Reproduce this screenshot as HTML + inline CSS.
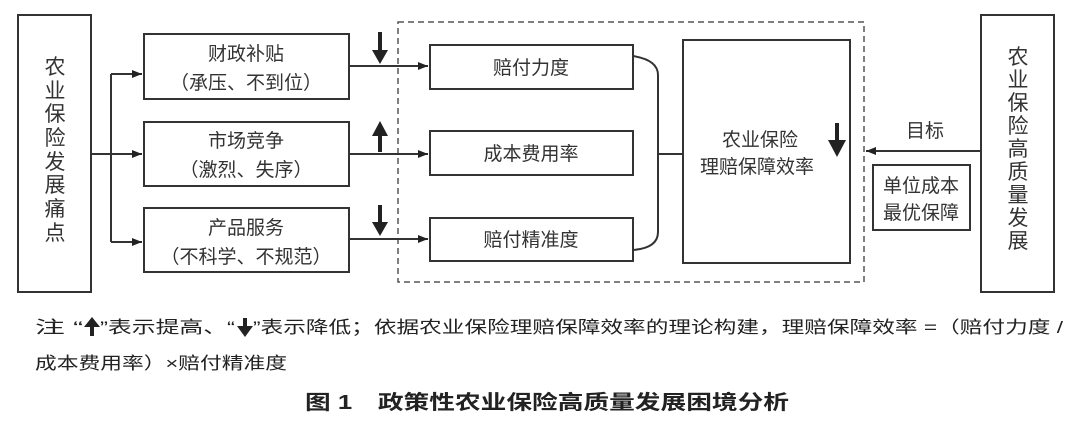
<!DOCTYPE html>
<html><head><meta charset="utf-8"><style>
html,body{margin:0;padding:0;background:#fff;}
svg{display:block;font-family:"Liberation Sans","Noto Sans CJK SC",sans-serif;}
</style></head><body>
<svg width="1080" height="423" viewBox="0 0 1080 423" xmlns="http://www.w3.org/2000/svg">
<defs><marker id="ah" markerWidth="10" markerHeight="8" refX="10" refY="4" orient="auto" markerUnits="userSpaceOnUse"><path d="M0,0 L10,4 L0,8 Z" fill="#222"/></marker></defs>
<g stroke="#333" stroke-width="2" fill="none">
<rect x="18" y="15" width="73" height="277"/>
<rect x="981" y="15" width="73" height="277"/>
<rect x="144" y="34" width="205" height="65"/>
<rect x="144" y="122" width="205" height="64"/>
<rect x="144" y="208" width="205" height="64"/>
<rect x="430" y="45" width="203" height="44"/>
<rect x="430" y="131" width="203" height="44"/>
<rect x="430" y="218" width="203" height="43"/>
<rect x="683" y="40" width="167" height="223"/>
<rect x="873" y="165" width="97" height="65"/>
<rect x="398" y="22" width="466" height="260" stroke-dasharray="6,4" stroke-width="1.5" stroke="#555"/>
<path d="M91,154 H111 M111,74 V242"/>
<path d="M111,74 H142" marker-end="url(#ah)"/>
<path d="M111,154 H142" marker-end="url(#ah)"/>
<path d="M111,242 H142" marker-end="url(#ah)"/>
<path d="M349,66 H428" marker-end="url(#ah)"/>
<path d="M349,154 H428" marker-end="url(#ah)"/>
<path d="M349,239 H428" marker-end="url(#ah)"/>
<path d="M633,56 Q658,60 658,75 V232 Q658,248 633,250 M658,154 H683"/>
<path d="M980,151 H866" marker-end="url(#ah)"/>
</g>
<g fill="#222">
<rect x="378" y="32" width="4" height="20"/><path d="M372,50 L388,50 L380,64 Z"/>
<rect x="378" y="132" width="4" height="20"/><path d="M372,136 L388,136 L380,121 Z"/>
<rect x="378" y="205" width="4" height="20"/><path d="M372,222 L388,222 L380,236 Z"/>
<rect x="835" y="123" width="4" height="20"/><path d="M828,140 L846,140 L837,157 Z"/>
<rect x="90" y="326" width="4" height="10"/><path d="M84,327 L100,327 L92,317 Z"/>
<rect x="243" y="318" width="4" height="10"/><path d="M237,326 L253,326 L245,337 Z"/>
</g>
<g font-size="19" fill="#333" text-anchor="middle">
<text x="246" y="60">财政补贴</text>
<text x="246" y="89">（承压、不到位）</text>
<text x="246" y="147">市场竞争</text>
<text x="246" y="176">（激烈、失序）</text>
<text x="246" y="234">产品服务</text>
<text x="246" y="263">（不科学、不规范）</text>
<text x="531" y="74">赔付力度</text>
<text x="531" y="160">成本费用率</text>
<text x="531" y="246">赔付精准度</text>
<text x="760" y="146">农业保险</text>
<text x="757" y="173">理赔保障效率</text>
<text x="925" y="137">目标</text>
<text x="921" y="192">单位成本</text>
<text x="921" y="219">最优保障</text>
</g>
<g font-size="21" fill="#333" text-anchor="middle">
<text x="55" y="74">农</text><text x="55" y="98">业</text><text x="55" y="121">保</text><text x="55" y="145">险</text><text x="55" y="169">发</text><text x="55" y="192">展</text><text x="55" y="216">痛</text><text x="55" y="240">点</text>
<text x="1018" y="64">农</text><text x="1018" y="87">业</text><text x="1018" y="110">保</text><text x="1018" y="133">险</text><text x="1018" y="156">高</text><text x="1018" y="179">质</text><text x="1018" y="202">量</text><text x="1018" y="225">发</text><text x="1018" y="248">展</text>
</g>
<g font-size="17" fill="#222">
<text x="35" y="333" textLength="48" lengthAdjust="spacingAndGlyphs">注 “</text>
<text x="100" y="333" textLength="135" lengthAdjust="spacingAndGlyphs">”表示提高、“</text>
<text x="253" y="333" textLength="810" lengthAdjust="spacingAndGlyphs">”表示降低；依据农业保险理赔保障效率的理论构建，理赔保障效率 =（赔付力度 /</text>
<text x="35" y="369" textLength="252" lengthAdjust="spacingAndGlyphs">成本费用率）×赔付精准度</text>
<text x="305" y="409" font-size="20" font-weight="bold" textLength="484" lengthAdjust="spacingAndGlyphs">图 1　政策性农业保险高质量发展困境分析</text>
</g>
</svg>
</body></html>
